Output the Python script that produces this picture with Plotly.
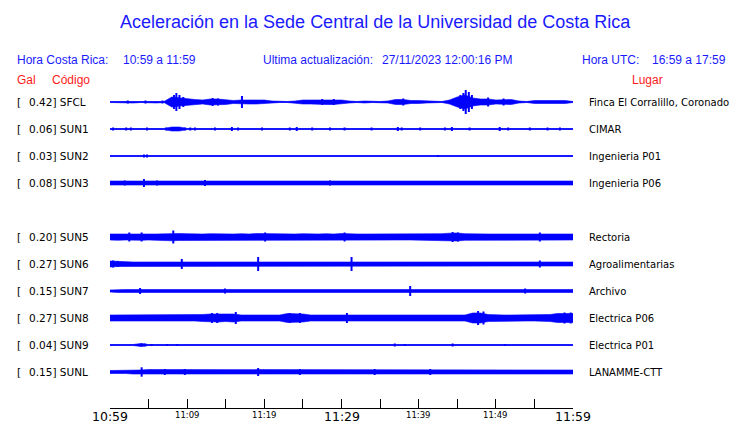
import plotly.graph_objects as go

# ---------------- data ----------------
title_text = "Aceleración en la Sede Central de la Universidad de Costa Rica"
hora_cr = "10:59 a 11:59"
hora_utc = "16:59 a 17:59"
ultima = "27/11/2023 12:00:16 PM"

codes = ["SFCL", "SUN1", "SUN2", "SUN3", "SUN5", "SUN6", "SUN7", "SUN8", "SUN9", "SUNL"]
slots = [0, 1, 2, 3, 5, 6, 7, 8, 9, 10]          # SUN4 row is empty
peak_gal = [0.42, 0.06, 0.03, 0.08, 0.20, 0.27, 0.15, 0.27, 0.04, 0.15]
places = ["Finca El Corralillo, Coronado", "CIMAR", "Ingenieria P01", "Ingenieria P06",
          "Rectoria", "Agroalimentarias", "Archivo", "Electrica P06", "Electrica P01",
          "LANAMME-CTT"]

minutes = list(range(61))                          # minutes after 10:59
tick_minutes = [0, 5, 10, 15, 20, 25, 30, 35, 40, 45, 50, 55, 60]
label_minutes = [0, 10, 20, 30, 40, 50, 60]
label_text = ["10:59", "11:09", "11:19", "11:29", "11:39", "11:49", "11:59"]
label_big = [True, False, False, True, False, False, True]

# background envelope amplitude (relative units) per minute
env_SFCL = [0.5, 0.5, 1, 1, 0.5, 0.5, 1, 0.5, 5, 4, 3, 2.5, 2, 3, 3, 2.5, 1.5, 2, 2, 2,
            2, 1, 0.5, 0.5, 1, 2, 2, 2, 2.5, 2.5, 2, 1, 0.5, 1, 0.5, 0.5, 1, 2.5, 2.5, 1.5,
            1.5, 1, 0.5, 0.5, 2, 5, 7, 4, 3, 3, 2, 2.5, 2.5, 1, 0.5, 1.5, 1.5, 1.5, 1.5, 1.5,
            0.5]
env_SUN1 = [0.5, 0.5, 0.5, 0.5, 0.5, 0.5, 0.5, 0.5, 2, 2, 0.5, 0.5, 0.5, 0.5, 0.5, 0.5, 0.5, 0.5, 0.5, 0.5,
            0.5, 0.5, 0.5, 0.5, 0.5, 0.5, 0.5, 0.5, 0.5, 0.5, 0.5, 0.5, 0.5, 0.5, 0.5, 0.5, 0.5, 1.2, 1.2, 0.5,
            0.5, 0.5, 0.5, 0.5, 1.2, 0.5, 0.5, 0.5, 0.5, 0.5, 0.5, 0.5, 0.5, 0.5, 0.5, 0.5, 0.5, 0.5, 0.5, 0.5,
            0.5]
env_SUN2 = [0.5, 0.5, 0.5, 0.5, 0.5, 0.5, 0.5, 0.5, 0.5, 0.5, 0.5, 0.5, 0.5, 0.5, 0.5, 0.5, 0.5, 0.5, 0.5, 0.5,
            0.5, 0.5, 0.5, 0.5, 0.5, 0.5, 0.5, 0.5, 0.5, 0.5, 0.5, 0.5, 0.5, 0.5, 0.5, 0.5, 0.5, 0.5, 0.5, 0.5,
            0.5, 0.5, 0.5, 0.5, 0.5, 0.5, 0.5, 0.5, 0.5, 0.5, 0.5, 0.5, 0.5, 0.5, 0.5, 0.5, 0.5, 0.5, 0.5, 0.5,
            0.5]
env_SUN3 = [2, 2, 2, 2, 2, 2, 2, 2, 2, 2, 2, 2, 2, 2, 2, 2, 2, 2, 2, 2,
            2, 2, 2, 2, 2, 2, 2, 2, 2, 2, 2, 2, 2, 2, 2, 2, 2, 2, 2, 2,
            2, 2, 2, 2, 2, 2, 2, 2, 2, 2, 2, 2, 2, 2, 2, 2, 2, 2, 2, 2,
            2]
env_SUN5 = [3, 3.3, 3, 3, 3.3, 3, 3, 3.3, 3.8, 3.5, 3.3, 3, 3, 3.3, 3, 3, 3, 3.3, 3, 3.5,
            3.3, 3, 3, 3, 3, 3.3, 3, 3, 3.3, 3, 3.5, 3, 3, 3, 3, 3, 3.3, 3, 3, 3,
            3, 3, 3, 3.3, 3.8, 4, 3.3, 3, 3, 3, 3, 3, 3, 3, 3.3, 3.5, 3.3, 3, 3, 3,
            3]
env_SUN6 = [3, 2.5, 2, 2, 2, 2, 2, 2, 2, 2, 2, 2, 2, 2, 2, 2, 2, 2, 2, 2,
            2, 2, 2, 2, 2, 2, 2, 2, 2, 2, 2, 2, 2, 2, 2, 2, 2, 2, 2, 2,
            2, 2, 2, 2, 2, 2, 2, 2, 2, 2, 2, 2, 2, 2, 2, 2.5, 2, 2, 2, 2,
            2]
env_SUN7 = [1, 1.5, 1.5, 1.5, 1.5, 1.5, 1.5, 1.5, 1.5, 1.5, 1.5, 1.5, 1.5, 1.5, 1.5, 1.5, 1.5, 1.5, 1.5, 1.5,
            1.5, 1.5, 1.5, 1.5, 1.5, 1.5, 1.5, 1.5, 1.5, 1.5, 1.5, 1.5, 1.5, 1.5, 1.5, 1.5, 1.5, 1.5, 1.5, 2,
            1.5, 1.5, 1.5, 1.5, 1.5, 1.5, 1.5, 1.5, 1.5, 1.5, 1.5, 1.5, 1.5, 1.5, 1.5, 1.5, 1.5, 1.5, 1.5, 1.5,
            1.5]
env_SUN8 = [3, 3, 3, 3, 3, 3, 3, 3, 3, 3, 3, 3, 3.5, 4, 4, 3.5, 4, 3, 3, 3,
            3, 3, 3, 4.5, 4.5, 4, 3, 3, 3, 3, 3, 3.5, 3, 3, 3, 3, 3, 3, 3, 3,
            3, 3, 3, 3, 3.5, 3, 3, 5, 5, 3.5, 3, 3, 3, 3, 3, 3, 3, 3.5, 4.5, 4.5,
            4.5]
env_SUN9 = [0.5, 0.5, 0.5, 0.5, 1.5, 0.5, 0.5, 0.5, 0.5, 0.5, 0.5, 0.5, 0.5, 0.5, 0.5, 0.5, 0.5, 0.5, 0.5, 0.5,
            0.5, 0.5, 0.5, 0.5, 0.5, 0.5, 0.5, 0.5, 0.5, 0.5, 0.5, 0.5, 0.5, 0.5, 0.5, 0.5, 0.5, 0.5, 0.5, 0.5,
            0.5, 0.5, 0.5, 0.5, 0.5, 0.5, 0.5, 0.5, 0.5, 0.5, 0.5, 0.5, 0.5, 0.5, 0.5, 0.5, 0.5, 0.5, 0.5, 0.5,
            0.5]
env_SUNL = [1.5, 1.5, 1.5, 2, 2, 2.5, 2.5, 2.5, 2.5, 2.5, 2.5, 2.5, 2, 2, 2, 2, 2, 2, 2, 2,
            2, 2, 2, 2, 2, 2, 2, 2, 2, 2, 2, 2, 2, 2, 2, 2, 2, 2, 2, 2,
            2, 2, 2, 2, 2, 2, 2, 2, 2, 2, 2, 2, 2, 2, 2, 2, 2, 2, 2, 2,
            2]
envelopes = [env_SFCL, env_SUN1, env_SUN2, env_SUN3, env_SUN5, env_SUN6,
             env_SUN7, env_SUN8, env_SUN9, env_SUNL]

# isolated peaks: minute and amplitude (same relative units)
spk_t_SFCL = [2.3, 4.6, 6.8, 8.3, 8.6, 9.0, 9.5, 13.3, 14.0, 17.1, 27.5, 29.0, 38.0, 45.4, 45.8, 46.1, 46.5, 46.9, 49.0, 51.0]
spk_a_SFCL = [1.5, 1.5, 1.5, 7, 9, 7, 5, 4, 3.5, 6, 3, 3, 3.5, 7, 9, 12, 10, 7, 4.5, 3.5]
spk_t_SUN1 = [0.4, 2.1, 2.7, 4.8, 7.3, 9.7, 10.4, 11.0, 13.6, 15.8, 16.6, 19.7, 23.3, 24.2, 26.2,
              28.5, 30.4, 33.9, 37.3, 37.8, 40.2, 43.4, 44.3, 46.6, 50.5, 51.6, 54.4, 56.7, 58.3]
spk_a_SUN1 = [1.5, 1.5, 1.5, 1.5, 1.5, 1.5, 1.5, 1.5, 1.5, 2, 1.5, 1.5, 1.5, 2, 1.5,
              1.5, 1.5, 1.5, 2, 1.5, 1.5, 1.5, 2, 1.5, 2, 1.5, 1.5, 1.5, 1.5]
spk_t_SUN2 = [4.4, 4.8, 42.5]
spk_a_SUN2 = [1.5, 1.5, 1]
spk_t_SUN3 = [1.9, 4.4, 6.1, 12.3, 28.5]
spk_a_SUN3 = [2.5, 4, 2.5, 3, 2.5]
spk_t_SUN5 = [2.5, 4.1, 8.2, 20.1, 30.4, 44.4, 45.1, 55.7]
spk_a_SUN5 = [4.5, 4.5, 6.5, 4.5, 4.5, 5, 4.5, 4.5]
spk_t_SUN6 = [0.4, 1.0, 9.3, 19.2, 31.3, 55.7]
spk_a_SUN6 = [3.5, 3, 5, 7, 7, 3.5]
spk_t_SUN7 = [3.9, 14.9, 38.9, 53.8]
spk_a_SUN7 = [3, 2.5, 5, 2.5]
spk_t_SUN8 = [13.2, 13.9, 16.3, 23.3, 24.6, 30.7, 47.7, 48.4, 58.9, 59.7]
spk_a_SUN8 = [5, 5, 6, 5, 5, 5, 7, 6.5, 5.5, 5.5]
spk_t_SUN9 = [4.1, 4.5, 5.4, 7.4, 8.7, 36.9, 38.2, 44.4, 51.2]
spk_a_SUN9 = [1.5, 1.5, 1, 1, 1, 1.5, 1, 1.5, 1]
spk_t_SUNL = [4.1, 7.1, 9.7, 19.2, 24.6, 34.3, 41.5]
spk_a_SUNL = [4.7, 3, 3, 4, 3, 3, 3]
spikes_t = [spk_t_SFCL, spk_t_SUN1, spk_t_SUN2, spk_t_SUN3, spk_t_SUN5, spk_t_SUN6,
            spk_t_SUN7, spk_t_SUN8, spk_t_SUN9, spk_t_SUNL]
spikes_a = [spk_a_SFCL, spk_a_SUN1, spk_a_SUN2, spk_a_SUN3, spk_a_SUN5, spk_a_SUN6,
            spk_a_SUN7, spk_a_SUN8, spk_a_SUN9, spk_a_SUNL]

# ---------------- layout geometry ----------------
W, H = 740, 423
L, R, T, B = 110, 573, 88, 408
ROW0_Y, ROW_PX = 102, 27
BLUE = "#0000ff"
TBLUE = "#1a1aff"
RED = "#ff1a1a"

y_top = (ROW0_Y - T) / ROW_PX
y_bot = -10 - (B - (ROW0_Y + 10 * ROW_PX)) / ROW_PX


def px(x):
    return (x - L) / (R - L)


def py(y):
    return (B - y) / (B - T)


fig = go.Figure()

for slot, envl, st, sa in zip(slots, envelopes, spikes_t, spikes_a):
    off = -slot
    up = [off + a / ROW_PX for a in envl]
    lo = [off - a / ROW_PX for a in envl]
    fig.add_trace(go.Scatter(
        x=minutes + minutes[::-1], y=up + lo[::-1],
        fill="toself", fillcolor=BLUE, mode="lines",
        line=dict(color=BLUE, width=0.6), hoverinfo="skip", showlegend=False))
    fig.add_trace(go.Scatter(
        x=[minutes[0], minutes[-1]], y=[off, off], mode="lines",
        line=dict(color=BLUE, width=1.2), hoverinfo="skip", showlegend=False))
    xs, ys = [], []
    for t, a in zip(st, sa):
        xs += [t, t, None]
        ys += [off - a / ROW_PX, off + a / ROW_PX, None]
    fig.add_trace(go.Scatter(
        x=xs, y=ys, mode="lines", line=dict(color=BLUE, width=2),
        hoverinfo="skip", showlegend=False))

ann = []
ann.append(dict(text=title_text, x=px(375), y=py(22), xref="paper", yref="paper",
                showarrow=False, xanchor="center", yanchor="middle",
                font=dict(family="Liberation Sans, Arial", size=18, color=TBLUE)))
hdr_font = dict(family="Liberation Sans, Arial", size=12, color=TBLUE)
for txt, x in [("Hora Costa Rica:", 15), (hora_cr, 121), ("Ultima actualización:", 261),
               (ultima, 380), ("Hora UTC:", 580), (hora_utc, 650)]:
    ann.append(dict(text=txt, x=px(x), y=py(60), xref="paper", yref="paper",
                    showarrow=False, xanchor="left", yanchor="middle", font=hdr_font))
red_font = dict(family="Liberation Sans, Arial", size=12, color=RED)
for txt, x in [("Gal", 15), ("Código", 50), ("Lugar", 630)]:
    ann.append(dict(text=txt, x=px(x), y=py(80), xref="paper", yref="paper",
                    showarrow=False, xanchor="left", yanchor="middle", font=red_font))

left_font = dict(family="DejaVu Sans", size=10.5, color="black")
right_font = dict(family="DejaVu Sans", size=10, color="black")
for code, slot, g, place in zip(codes, slots, peak_gal, places):
    yy = -slot
    ann.append(dict(text="[", x=px(15), y=yy, xref="paper", yref="y", showarrow=False,
                    xanchor="left", yanchor="middle", font=left_font))
    ann.append(dict(text=f"{g:.2f}] {code}", x=px(27), y=yy, xref="paper", yref="y",
                    showarrow=False, xanchor="left", yanchor="middle", font=left_font))
    ann.append(dict(text=place, x=px(587), y=yy, xref="paper", yref="y", showarrow=False,
                    xanchor="left", yanchor="middle", font=right_font))

for m, t, big in zip(label_minutes, label_text, label_big):
    ann.append(dict(text=t, x=m, y=py(416 if big else 415), xref="x", yref="paper",
                    showarrow=False, xanchor="center", yanchor="middle",
                    font=dict(family="DejaVu Sans", size=12.5 if big else 8.5, color="black")))

fig.update_layout(
    width=W, height=H,
    margin=dict(l=L, r=W - R, t=T, b=H - B, pad=0),
    paper_bgcolor="white", plot_bgcolor="white",
    showlegend=False,
    annotations=ann,
    xaxis=dict(range=[0, 60], showgrid=False, zeroline=False, showline=True,
               linecolor="black", linewidth=1, ticks="inside", ticklen=9,
               tickcolor="black", tickwidth=1, tickvals=tick_minutes,
               showticklabels=False, fixedrange=True),
    yaxis=dict(range=[y_bot, y_top], showgrid=False, zeroline=False, showline=False,
               showticklabels=False, ticks="", fixedrange=True),
)

fig.write_html("out.html", config={"displayModeBar": False},
               post_script="document.body.style.margin='0';document.body.style.overflow='hidden';")
